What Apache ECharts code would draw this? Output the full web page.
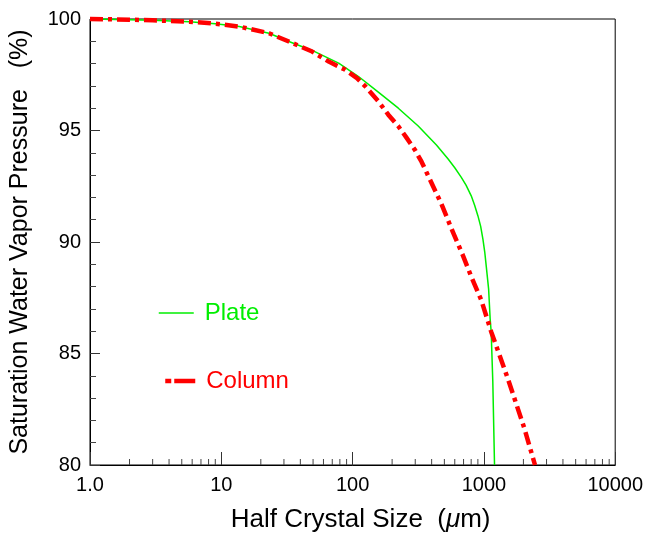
<!DOCTYPE html>
<html>
<head>
<meta charset="utf-8">
<script src="https://cdn.jsdelivr.net/npm/echarts@6/dist/echarts.min.js"></script>
<style>html,body{margin:0;padding:0;background:#fff}#c{width:646px;height:538px}</style>
</head>
<body>
<div id="c"></div>
<script>
const plateX = [1, 2, 3, 5.72, 9, 13.7, 23.1, 32.7, 49.2, 78.3, 111, 157, 223, 316, 435, 534, 600, 673, 731, 801, 850, 901, 945, 983, 1015, 1041, 1086, 1116, 1136, 1169, 1205];
const plateY = [100, 99.97, 99.94, 99.88, 99.79, 99.66, 99.36, 98.99, 98.59, 98.02, 97.42, 96.72, 96.0, 95.2, 94.35, 93.72, 93.33, 92.9, 92.55, 92.07, 91.65, 91.17, 90.7, 90.13, 89.55, 88.94, 87.9, 86.56, 85.98, 83.75, 80];
const columnX = [1, 2, 3, 5.72, 9, 13.7, 23.1, 32.7, 49.2, 65.8, 88.1, 108, 125, 157, 187, 223, 258, 299, 335, 377, 475, 582, 693, 801, 955, 1136, 1520, 2033, 2450];
const columnY = [100, 99.97, 99.94, 99.88, 99.79, 99.66, 99.36, 98.99, 98.54, 98.09, 97.72, 97.35, 96.98, 96.31, 95.71, 95.19, 94.67, 94.12, 93.6, 92.96, 91.7, 90.43, 89.39, 88.45, 87.4, 85.98, 83.88, 81.65, 80];
const xMajorTicks = [1, 10, 100, 1000, 10000];
const xMinorTicks = [2,3,4,5,6,7,8,9,20,30,40,50,60,70,80,90,200,300,400,500,600,700,800,900,2000,3000,4000,5000,6000,7000,8000,9000];
const yTicks = [80, 85, 90, 95, 100];

const FONT = 'Liberation Sans, Arial, sans-serif';
const GREEN = '#00ee00';
const RED = '#ff0000';

const chart = echarts.init(document.getElementById('c'), null, {renderer: 'canvas'});
chart.setOption({
  animation: false,
  backgroundColor: '#fff',
  grid: {left: 90, right: 28, top: 19, bottom: 70, show: true, borderColor: '#000', borderWidth: 1, backgroundColor: 'transparent'},
  legend: [
    {data: [{name: 'Plate', textStyle: {color: GREEN}}], left: 153, top: 296, itemWidth: 35, itemHeight: 14,
     itemStyle: {opacity: 0}, lineStyle: {width: 1.5},
     textStyle: {fontSize: 24, fontFamily: FONT, padding: [0, 0, 0, 6]}, selectedMode: false},
    {data: [{name: 'Column', textStyle: {color: RED}}], left: 158, top: 364, itemWidth: 30, itemHeight: 14,
     itemStyle: {opacity: 0}, lineStyle: {width: 4.5, type: [6, 3, 21, 3]},
     textStyle: {fontSize: 24, fontFamily: FONT, padding: [0, 0, 0, 6]}, selectedMode: false}
  ],
  xAxis: {
    type: 'log', logBase: 10, min: xMajorTicks[0], max: xMajorTicks[xMajorTicks.length - 1],
    name: 'Half Crystal Size  ({i|μ}m)', nameLocation: 'middle', nameGap: 42,
    nameTextStyle: {fontSize: 26, fontFamily: FONT, color: '#000', padding: [0, 0, 0, 16],
      rich: {i: {fontStyle: 'italic', fontSize: 26, fontFamily: FONT, color: '#000'}}},
    axisLine: {show: true, lineStyle: {color: '#000', width: 1}},
    axisTick: {show: true, inside: true, length: 13, lineStyle: {color: '#333'}},
    axisLabel: {fontSize: 20, fontFamily: FONT, color: '#000', margin: 10,
      formatter: v => (v === 1 ? '1.0' : String(Math.round(v)))},
    splitLine: {show: false}
  },
  yAxis: {
    type: 'value', min: yTicks[0], max: yTicks[yTicks.length - 1], interval: 5,
    name: 'Saturation Water Vapor Pressure   (%)', nameLocation: 'middle', nameGap: 57,
    nameTextStyle: {fontSize: 25, fontFamily: FONT, color: '#000'},
    axisLine: {show: true, lineStyle: {color: '#000', width: 1}},
    axisTick: {show: true, inside: true, length: 10, lineStyle: {color: '#333'}},
    minorTick: {show: true, splitNumber: 5, length: 6, lineStyle: {color: '#444'}},
    axisLabel: {fontSize: 20, fontFamily: FONT, color: '#000', margin: 9},
    splitLine: {show: false}
  },
  series: [
    {
      name: 'Plate', type: 'line', showSymbol: false, symbol: 'none', clip: false,
      smooth: false,
      lineStyle: {color: GREEN, width: 1.5, join: 'round'},
      itemStyle: {color: GREEN},
      data: plateX.map((x, i) => [x, plateY[i]]),
      z: 3
    },
    {
      name: 'Column', type: 'line', showSymbol: false, symbol: 'none', clip: false,
      smooth: false,
      lineStyle: {color: RED, width: 4.5, type: [13, 5, 4, 5], cap: 'butt', join: 'round'},
      itemStyle: {color: RED},
      data: columnX.map((x, i) => [x, columnY[i]]),
      z: 4
    },
    {
      name: 'minorTicks', type: 'custom', silent: true,
      data: xMinorTicks.map(v => [v, yTicks[0]]),
      renderItem: function (params, api) {
        const p = api.coord([api.value(0), api.value(1)]);
        return {type: 'line', shape: {x1: p[0], y1: p[1], x2: p[0], y2: p[1] - 6},
          style: {stroke: '#444', lineWidth: 1}};
      },
      z: 2
    }
  ]
});
</script>
</body>
</html>
